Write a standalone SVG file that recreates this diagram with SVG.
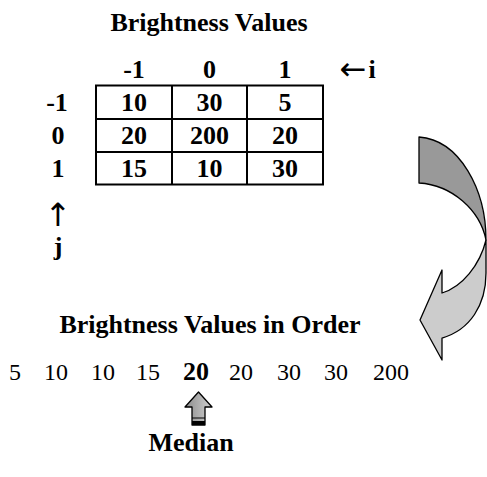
<svg xmlns="http://www.w3.org/2000/svg" width="487" height="477" viewBox="0 0 487 477">
<defs>
<style>
.b{font-family:"Liberation Serif","Times New Roman",serif;font-weight:bold;font-size:26px;fill:#000;text-anchor:middle}
.r{font-family:"Liberation Serif","Times New Roman",serif;font-size:24px;fill:#000;text-anchor:middle}
.ar{font-family:"DejaVu Sans",sans-serif;font-size:32px;fill:#000;text-anchor:middle}
.grid{fill:none;stroke:#000;stroke-width:2}
.ol{stroke:#000;stroke-width:1.3;stroke-linejoin:round}
</style>
<linearGradient id="ga" x1="0" y1="0" x2="1" y2="0">
<stop offset="0" stop-color="#8c8c8c"/>
<stop offset="1" stop-color="#d0d0d0"/>
</linearGradient>
</defs>
<rect width="487" height="477" fill="#fff"/>
<g id="title"><text class="b" x="209" y="31">Brightness Values</text></g>
<g id="matrix">
<rect class="grid" x="96" y="85.5" width="227" height="99"/>
<line class="grid" x1="172" y1="85.5" x2="172" y2="184.5"/>
<line class="grid" x1="247" y1="85.5" x2="247" y2="184.5"/>
<line class="grid" x1="96" y1="119" x2="323" y2="119"/>
<line class="grid" x1="96" y1="152" x2="323" y2="152"/>
<text class="b" x="134" y="78">-1</text>
<text class="b" x="209.5" y="78">0</text>
<text class="b" x="285" y="78">1</text>
<text class="ar" x="353" y="80">←</text>
<text class="b" x="372" y="78">i</text>
<text class="b" x="57" y="110.5">-1</text>
<text class="b" x="58" y="144">0</text>
<text class="b" x="58" y="177">1</text>
<text class="ar" x="58" y="226" font-size="36">↑</text>
<text class="b" x="58" y="255">j</text>
<text class="b" x="134" y="110.5">10</text>
<text class="b" x="209.5" y="110.5">30</text>
<text class="b" x="285" y="110.5">5</text>
<text class="b" x="134" y="144">20</text>
<text class="b" x="209.5" y="144">200</text>
<text class="b" x="285" y="144">20</text>
<text class="b" x="134" y="177">15</text>
<text class="b" x="209.5" y="177">10</text>
<text class="b" x="285" y="177">30</text>
</g>
<g id="curved-arrow">
<path class="ol" fill="#999" d="M419,137 L419,183 C452,185 480,210 486,240 C486,190 460,140 419,137 Z"/>
<path class="ol" fill="#ccc" d="M486,240 L486,273 C486,305 470,330 442,338 L442,360 L420,320 L442,270 L442,293 C462,287 480,265 486,240 Z"/>
</g>
<g id="order-title"><text class="b" x="210" y="333">Brightness Values in Order</text></g>
<g id="order-values">
<text class="r" x="15" y="380">5</text>
<text class="r" x="56" y="380">10</text>
<text class="r" x="103" y="380">10</text>
<text class="r" x="148" y="380">15</text>
<text class="b" x="196" y="380">20</text>
<text class="r" x="241" y="380">20</text>
<text class="r" x="289" y="380">30</text>
<text class="r" x="336" y="380">30</text>
<text class="r" x="391" y="380">200</text>
</g>
<g id="median-arrow">
<path class="ol" fill="url(#ga)" d="M198.5,392 L212,407 L205,407 L205,425 L192,425 L192,407 L185,407 Z"/>
<line x1="192" y1="418" x2="205" y2="418" stroke="#000" stroke-width="1"/>
<rect x="192" y="421" width="13" height="4" fill="#000"/>
</g>
<g id="median-label"><text class="b" x="191" y="451" font-size="27">Median</text></g>
</svg>
